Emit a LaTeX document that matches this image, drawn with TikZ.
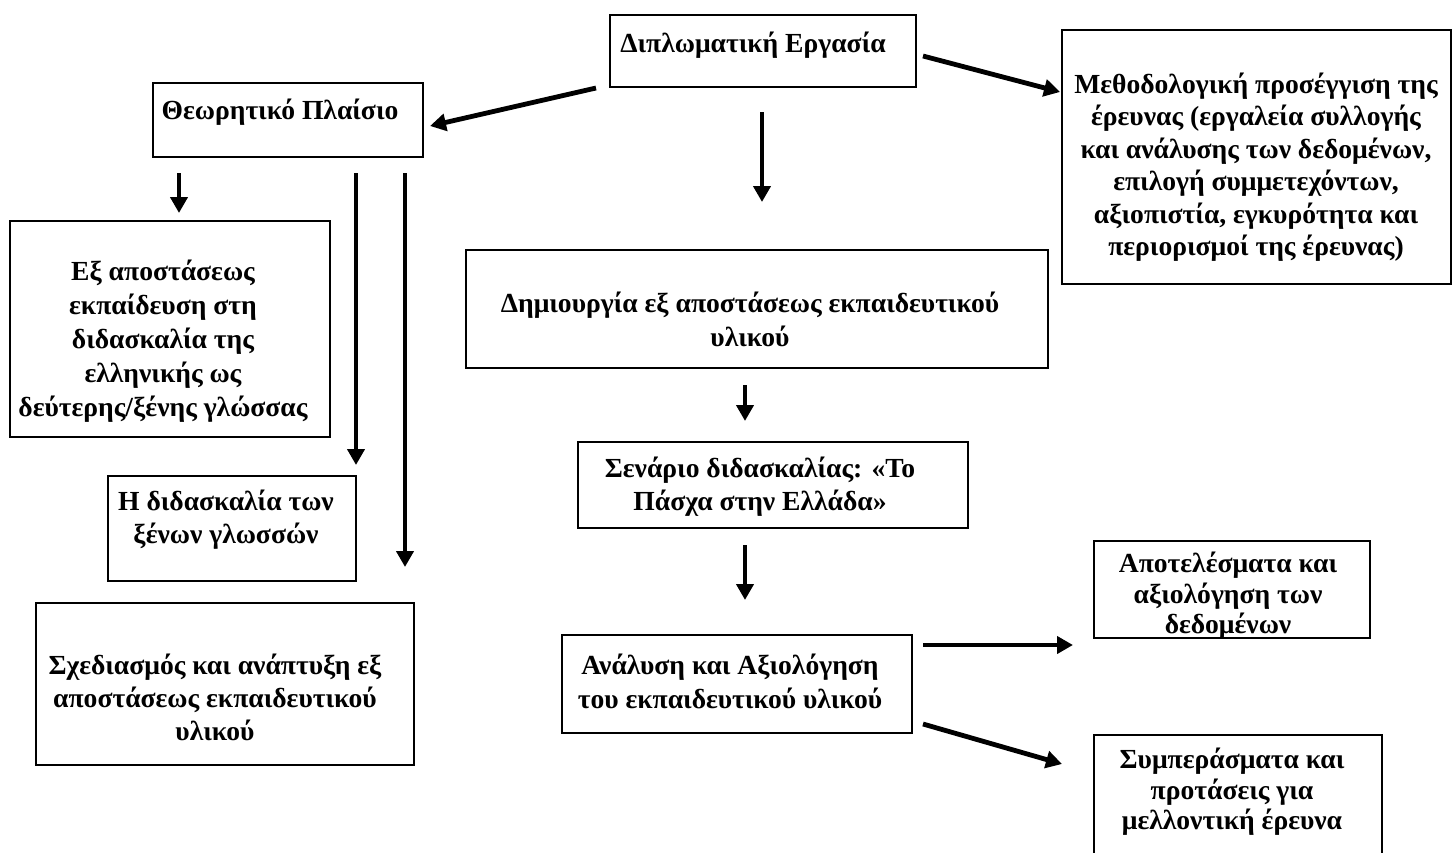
\documentclass[tikz,border=0pt]{standalone}
\usepackage{fontspec}
\setmainfont{Liberation Serif}
\usetikzlibrary{arrows.meta,fit}
\tikzset{
  box/.style={draw=black, line width=2.6pt, inner sep=0pt},
  txt/.style={align=center, inner sep=0pt, font=\bfseries\fontsize{27.6}{33}\selectfont},
  arr/.style={line width=4.8pt, -{Triangle[width=17pt,length=16pt]}},
}
\begin{document}
\begin{tikzpicture}[x=1pt,y=-1pt]
\useasboundingbox (0,0) rectangle (1453,852);
\clip (0,0) rectangle (1453,852);
\fill[white] (0,0) rectangle (1453,852);
% boxes
\node[box, fit={(610,15) (916,87)}] (dipl) {};
\node[box, fit={(153,83) (423,157)}] (theor) {};
\node[box, fit={(1062,30) (1451,284)}] (meth) {};
\node[box, fit={(10,221) (330,437)}] (ex) {};
\node[box, fit={(108,476) (356,581)}] (hd) {};
\node[box, fit={(36,603) (414,765)}] (sx) {};
\node[box, fit={(466,250) (1048,368)}] (dimi) {};
\node[box, fit={(578,442) (968,528)}] (sen) {};
\node[box, fit={(562,635) (912,733)}] (ana) {};
\node[box, fit={(1094,541) (1370,638)}] (apo) {};
\node[box, fit={(1094,735) (1382,880)}] (sym) {};
% texts
\node[txt] (dipl-t) at (753,45) {Διπλωματική Εργασία};
\node[txt] (theor-t) at (280,112) {Θεωρητικό Πλαίσιο};
\node[txt, font=\bfseries\fontsize{27.6}{32.5}\selectfont] (meth-t) at (1256,167) {Μεθοδολογική προσέγγιση της\\έρευνας (εργαλεία συλλογής\\και ανάλυσης των δεδομένων,\\επιλογή συμμετεχόντων,\\αξιοπιστία, εγκυρότητα και\\περιορισμοί της έρευνας)};
\node[txt, font=\bfseries\fontsize{27.6}{34}\selectfont] (ex-t) at (163,341) {Εξ αποστάσεως\\εκπαίδευση στη\\διδασκαλία της\\ελληνικής ως\\δεύτερης/ξένης γλώσσας};
\node[txt] (hd-t) at (226,520) {Η διδασκαλία των\\ξένων γλωσσών};
\node[txt] (sx-t) at (215,697) {Σχεδιασμός και ανάπτυξη εξ\\αποστάσεως εκπαιδευτικού\\υλικού};
\node[txt, font=\bfseries\fontsize{27.6}{34}\selectfont] (dimi-t) at (750,319) {Δημιουργία εξ αποστάσεως εκπαιδευτικού\\υλικού};
\node[txt, font=\bfseries\fontsize{27.6}{33}\selectfont] (sen-t) at (760,487) {Σενάριο διδασκαλίας: «Το\\Πάσχα στην Ελλάδα»};
\node[txt, font=\bfseries\fontsize{27.6}{34}\selectfont] (ana-t) at (730,681) {Ανάλυση και Αξιολόγηση\\του εκπαιδευτικού υλικού};
\node[txt, font=\bfseries\fontsize{27.6}{30.5}\selectfont] (apo-t) at (1228,596) {Αποτελέσματα και\\αξιολόγηση των\\δεδομένων};
\node[txt, font=\bfseries\fontsize{27.6}{30.5}\selectfont] (sym-t) at (1232,792) {Συμπεράσματα και\\προτάσεις για\\μελλοντική έρευνα};
% arrow end points
\coordinate (a1s) at (596,88);  \coordinate (a1e) at (430,126);
\coordinate (a2s) at (923,56);  \coordinate (a2e) at (1060,92);
\coordinate (a3s) at (762,112); \coordinate (a3e) at (762,202);
\coordinate (a4s) at (179,173); \coordinate (a4e) at (179,213);
\coordinate (a5s) at (356,173); \coordinate (a5e) at (356,465);
\coordinate (a6s) at (405,173); \coordinate (a6e) at (405,567);
\coordinate (a7s) at (745,385); \coordinate (a7e) at (745,421);
\coordinate (a8s) at (745,545); \coordinate (a8e) at (745,600);
\coordinate (a9s) at (923,645); \coordinate (a9e) at (1073,645);
\coordinate (a10s) at (923,724); \coordinate (a10e) at (1062,764);
% arrows
\draw[arr] (a1s) -- (a1e);
\draw[arr] (a2s) -- (a2e);
\draw[arr] (a3s) -- (a3e);
\draw[arr] (a4s) -- (a4e);
\draw[arr] (a5s) -- (a5e);
\draw[arr] (a6s) -- (a6e);
\draw[arr] (a7s) -- (a7e);
\draw[arr] (a8s) -- (a8e);
\draw[arr] (a9s) -- (a9e);
\draw[arr] (a10s) -- (a10e);
\end{tikzpicture}
\end{document}
